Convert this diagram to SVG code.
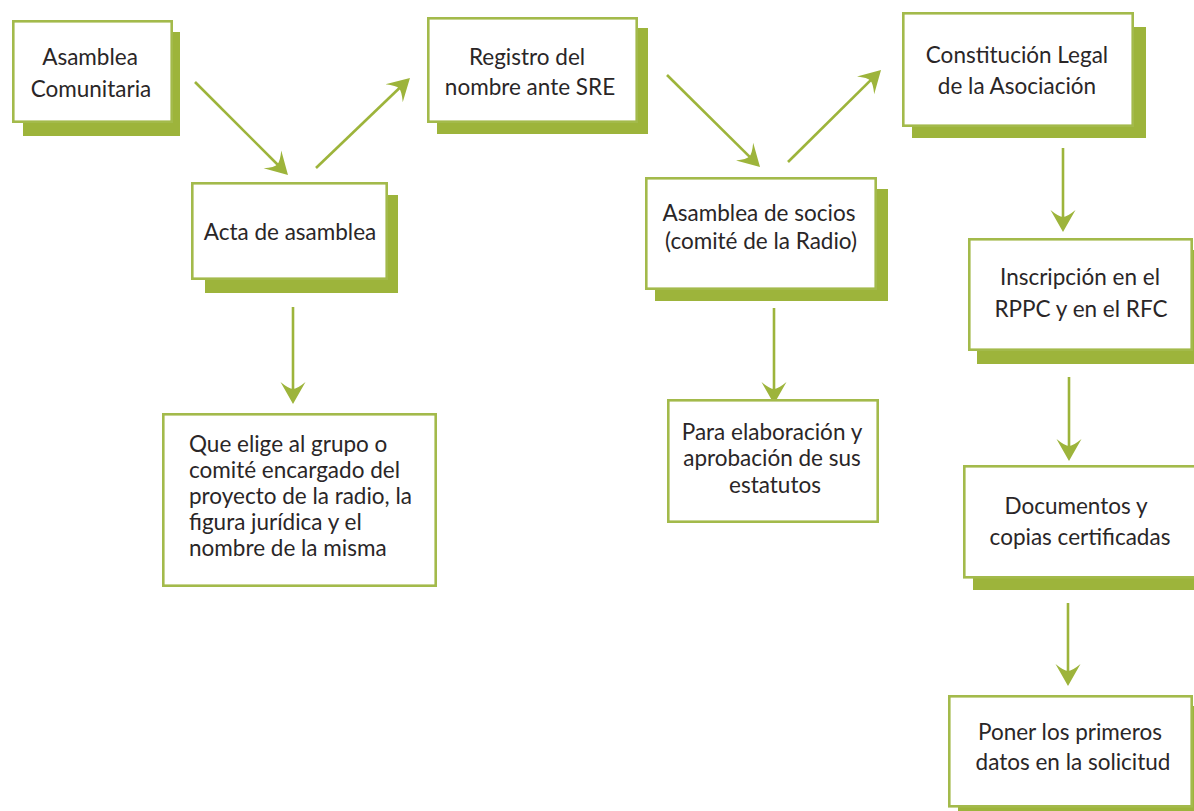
<svg xmlns="http://www.w3.org/2000/svg" width="1194" height="811" viewBox="0 0 1194 811">
<style>
.shadow{fill:#9db43b;}
.box{fill:#ffffff;stroke:#a3ba4b;stroke-width:2.6;}
.lbl{font-family:Lato,"Liberation Sans",sans-serif;font-size:22.5px;fill:#2a2627;text-anchor:middle;}
.lft{text-anchor:start;}
.conn{stroke:#9db43b;stroke-width:2.6;fill:none;marker-end:url(#ah);}
</style>
<defs>
<marker id="ah" markerUnits="userSpaceOnUse" viewBox="0 -13 23 26" markerWidth="23" markerHeight="26" refX="10" refY="0" orient="auto">
<path d="M22,0 L0,-12.5 Q7,-4 7,0 Q7,4 0,12.5 Z" fill="#9db43b"/>
</marker>
</defs>
<rect width="1194" height="811" fill="#ffffff"/>
<g id="connectors">
<path class="conn" d="M195,82 L279.5,166.5"/>
<path class="conn" d="M316,168 L401.3,86.3"/>
<path class="conn" d="M667,75 L751.5,158.6"/>
<path class="conn" d="M788,162 L872.5,78.4"/>
<path class="conn" d="M293,307 L293,392"/>
<path class="conn" d="M774,308 L774,392"/>
<path class="conn" d="M1063,148 L1063,220"/>
<path class="conn" d="M1069,377 L1069,449"/>
<path class="conn" d="M1068,603 L1068,674"/>
</g>
<g id="n1">
<rect class="shadow" x="23" y="32" width="157" height="104"/>
<rect class="box" x="13.3" y="21.3" width="158.4" height="100.4"/>
<text class="lbl" x="90" y="65">Asamblea</text>
<text class="lbl" x="91" y="97">Comunitaria</text>
</g>
<g id="n2">
<rect class="shadow" x="205" y="195" width="193" height="98"/>
<rect class="box" x="192.3" y="183.3" width="194.4" height="95.4"/>
<text class="lbl" x="290" y="240">Acta de asamblea</text>
</g>
<g id="n3">
<rect class="shadow" x="437" y="28" width="211" height="106"/>
<rect class="box" x="428.3" y="18.3" width="208.4" height="103.4"/>
<text class="lbl" x="527" y="65">Registro del</text>
<text class="lbl" x="530" y="95">nombre ante SRE</text>
</g>
<g id="n4">
<rect class="shadow" x="655" y="189" width="233" height="112"/>
<rect class="box" x="646.3" y="178.3" width="229.4" height="110.4"/>
<text class="lbl" x="759" y="221">Asamblea de socios</text>
<text class="lbl" x="761" y="249">(comité de la Radio)</text>
</g>
<g id="n5">
<rect class="shadow" x="912" y="27" width="234" height="111"/>
<rect class="box" x="903.3" y="13.3" width="229.4" height="112.4"/>
<text class="lbl" x="1017" y="63">Constitución Legal</text>
<text class="lbl" x="1017" y="94">de la Asociación</text>
</g>
<g id="n6">
<rect class="shadow" x="977" y="250" width="220" height="114"/>
<rect class="box" x="969.3" y="239.3" width="222.4" height="110.4"/>
<text class="lbl" x="1080" y="285">Inscripción en el</text>
<text class="lbl" x="1081" y="317">RPPC y en el RFC</text>
</g>
<g id="n7">
<rect class="shadow" x="973" y="477" width="224" height="113"/>
<rect class="box" x="964.3" y="466.3" width="232" height="111"/>
<text class="lbl" x="1076" y="514">Documentos y</text>
<text class="lbl" x="1080" y="545">copias certificadas</text>
</g>
<g id="n8">
<rect class="shadow" x="958" y="706" width="240" height="105"/>
<rect class="box" x="949.3" y="696.3" width="242.4" height="110"/>
<text class="lbl" x="1070" y="740">Poner los primeros</text>
<text class="lbl" x="1073" y="770">datos en la solicitud</text>
</g>
<g id="n9">
<rect class="box" x="163.3" y="414.3" width="272.4" height="171.4"/>
<text class="lbl lft" x="189" y="452">Que elige al grupo o</text>
<text class="lbl lft" x="189" y="478">comité encargado del</text>
<text class="lbl lft" x="189" y="504">proyecto de la radio, la</text>
<text class="lbl lft" x="189" y="530">figura jurídica y el</text>
<text class="lbl lft" x="189" y="556">nombre de la misma</text>
</g>
<g id="n10">
<rect class="box" x="668.3" y="400.3" width="209.4" height="121.4"/>
<text class="lbl" x="772" y="440">Para elaboración y</text>
<text class="lbl" x="772" y="466">aprobación de sus</text>
<text class="lbl" x="775" y="493">estatutos</text>
</g>
</svg>
